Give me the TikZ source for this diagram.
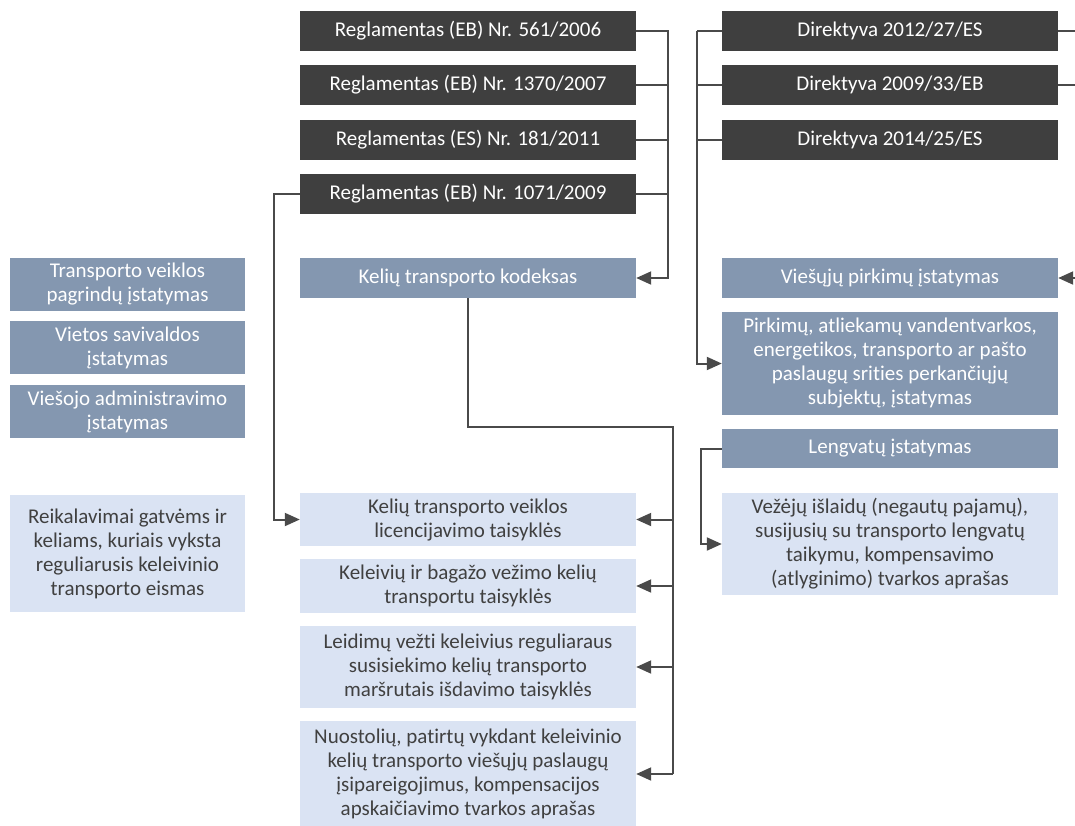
\documentclass[tikz,border=0pt]{standalone}
\usepackage{fontspec}
\setmainfont{Carlito}[Ligatures=NoCommon]
\usetikzlibrary{arrows.meta}
\definecolor{darkbox}{HTML}{3F3F3F}
\definecolor{bluebox}{HTML}{8497B0}
\definecolor{lightbox}{HTML}{DAE3F3}
\definecolor{lighttext}{HTML}{404040}
\definecolor{conn}{HTML}{4A4A4A}
\begin{document}
\begin{tikzpicture}[x=1pt,y=-1pt,
  box/.style={inner sep=0pt, align=center, font=\fontsize{21}{24}\selectfont},
  dbox/.style={box, fill=darkbox, text=white, minimum height=40pt},
  bbox/.style={box, fill=bluebox, text=white},
  lbox/.style={box, fill=lightbox, text=lighttext},
  wide/.style={minimum width=336pt},
  narrow/.style={minimum width=235pt},
  link/.style={draw=conn, line width=2pt, line join=miter},
  arr/.style={link, -{Triangle[length=15pt,width=13pt]}}
]
\clip (0,0) rectangle (1075,825);
\fill[white] (0,0) rectangle (1075,825);

% left column
\node[bbox, narrow, minimum height=53pt] (L1) at (127.5,284.5) {Transporto veiklos\\pagrindų įstatymas};
\node[bbox, narrow, minimum height=53pt] (L2) at (127.5,347.5) {Vietos savivaldos\\įstatymas};
\node[bbox, narrow, minimum height=53pt] (L3) at (127.5,411.5) {Viešojo administravimo\\įstatymas};
\node[lbox, narrow, minimum height=117pt] (L4) at (127.5,553.5) {Reikalavimai gatvėms ir\\keliams, kuriais vyksta\\reguliarusis keleivinio\\transporto eismas};

% middle column
\node[dbox, wide] (D1) at (468,31) {Reglamentas (EB) Nr. 561/2006};
\node[dbox, wide] (D2) at (468,85) {Reglamentas (EB) Nr. 1370/2007};
\node[dbox, wide] (D3) at (468,140) {Reglamentas (ES) Nr. 181/2011};
\node[dbox, wide] (D4) at (468,194) {Reglamentas (EB) Nr. 1071/2009};
\node[bbox, wide, minimum height=40pt] (K) at (468,278) {Kelių transporto kodeksas};
\node[lbox, wide, minimum height=53pt] (M1) at (468,519.5) {Kelių transporto veiklos\\licencijavimo taisyklės};
\node[lbox, wide, minimum height=54pt] (M2) at (468,586) {Keleivių ir bagažo vežimo kelių\\transportu taisyklės};
\node[lbox, wide, minimum height=82pt] (M3) at (468,667) {Leidimų vežti keleivius reguliaraus\\susisiekimo kelių transporto\\maršrutais išdavimo taisyklės};
\node[lbox, wide, minimum height=106pt] (M4) at (468,774) {Nuostolių, patirtų vykdant keleivinio\\kelių transporto viešųjų paslaugų\\įsipareigojimus, kompensacijos\\apskaičiavimo tvarkos aprašas};

% right column
\node[dbox, wide] (R1) at (890,31) {Direktyva 2012/27/ES};
\node[dbox, wide] (R2) at (890,85) {Direktyva 2009/33/EB};
\node[dbox, wide] (R3) at (890,140) {Direktyva 2014/25/ES};
\node[bbox, wide, minimum height=40pt] (V) at (890,278) {Viešųjų pirkimų įstatymas};
\node[bbox, wide, minimum height=103pt] (P) at (890,363.5) {Pirkimų, atliekamų vandentvarkos,\\energetikos, transporto ar pašto\\paslaugų srities perkančiųjų\\subjektų, įstatymas};
\node[bbox, wide, minimum height=39pt] (Lg) at (890,448.5) {Lengvatų įstatymas};
\node[lbox, wide, minimum height=102pt] (Vz) at (890,544) {Vežėjų išlaidų (negautų pajamų),\\susijusių su transporto lengvatų\\taikymu, kompensavimo\\(atlyginimo) tvarkos aprašas};

% bus coordinates
\coordinate (mbus) at (668,0);
\coordinate (lbus) at (274,0);
\coordinate (rbusL) at (697,0);
\coordinate (rbusR) at (1090,0);
\coordinate (lgbus) at (701,0);
\coordinate (kbus) at (673,427);

% middle regulations -> Kelių transporto kodeksas
\draw[link] (D1.east) -- (D1.east -| mbus) -- (D4.east -| mbus);
\draw[link] (D2.east) -- (D2.east -| mbus);
\draw[link] (D3.east) -- (D3.east -| mbus);
\draw[arr] (D4.east) -- (D4.east -| mbus) -- (K.east -| mbus) -- (K.east);

% 1071/2009 -> licencijavimo taisyklės
\draw[arr] (D4.west) -- (D4.west -| lbus) -- (M1.west -| lbus) -- (M1.west);

% Kelių transporto kodeksas -> light boxes
\draw[link] (K.south) -- (K.south |- kbus) -- (kbus) -- (kbus |- M4.east);
\draw[arr] (kbus |- M1.east) -- (M1.east);
\draw[arr] (kbus |- M2.east) -- (M2.east);
\draw[arr] (kbus |- M3.east) -- (M3.east);
\draw[arr] (kbus |- M4.east) -- (M4.east);

% directives -> Pirkimų įstatymas
\draw[link] (R1.west) -- (R1.west -| rbusL);
\draw[link] (R2.west) -- (R2.west -| rbusL);
\draw[link] (R3.west) -- (R3.west -| rbusL);
\draw[arr] (R1.west -| rbusL) -- (P.west -| rbusL) -- (P.west);

% directives -> Viešųjų pirkimų įstatymas (right, off picture)
\draw[link] (R1.east) -- (R1.east -| rbusR) -- (R2.east -| rbusR);
\draw[link] (R2.east) -- (R2.east -| rbusR);
\draw[arr] (R2.east -| rbusR) -- (V.east -| rbusR) -- (V.east);

% Lengvatų įstatymas -> Vežėjų išlaidų
\draw[arr] (Lg.west) -- (Lg.west -| lgbus) -- (Vz.west -| lgbus) -- (Vz.west);
\end{tikzpicture}
\end{document}
